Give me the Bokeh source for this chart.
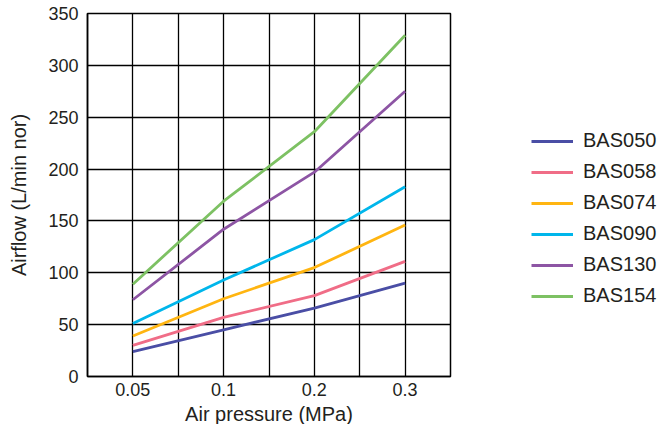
import math
from bokeh.plotting import figure
from bokeh.models import FixedTicker, Legend, LegendItem, Range1d
from bokeh.embed import file_html
from bokeh.resources import INLINE

pressures = ["0.05", "0.1", "0.2", "0.3"]
series_names = ["BAS050", "BAS058", "BAS074", "BAS090", "BAS130", "BAS154"]
bas050 = [24, 45, 66, 90]
bas058 = [30, 57, 78, 111]
bas074 = [39, 75, 105, 146]
bas090 = [51, 93, 132, 183]
bas130 = [74, 142, 197, 275]
bas154 = [89, 169, 236, 329]
colors = ["#4a4ea5", "#f06d87", "#ffb511", "#00b6eb", "#8d55a4", "#7dc163"]
y_ticks = [0, 50, 100, 150, 200, 250, 300, 350]

series = [bas050, bas058, bas074, bas090, bas130, bas154]
xs = list(range(len(pressures)))

FONT = "Liberation Sans"
TXT = "#231f20"

p = figure(width=661, height=424, output_backend="svg", toolbar_location=None,
           x_range=Range1d(-0.5, len(pressures) - 0.5), y_range=Range1d(0, 350),
           frame_width=363, frame_height=363,
           min_border_left=87, min_border_top=13, min_border_bottom=48, min_border_right=211)
p.background_fill_color = "white"
p.border_fill_color = "white"
p.outline_line_color = "black"
p.outline_line_width = 1.5

p.xaxis.ticker = FixedTicker(ticks=xs)
p.xaxis.major_label_overrides = {i: s for i, s in enumerate(pressures)}
p.yaxis.ticker = FixedTicker(ticks=y_ticks)
for ax in (p.xaxis[0], p.yaxis[0]):
    ax.major_tick_out = 0
    ax.major_tick_in = 0
    ax.minor_tick_out = 0
    ax.minor_tick_in = 0
    ax.axis_line_color = "black"
    ax.axis_line_width = 1.5
    ax.major_label_text_font = FONT
    ax.major_label_text_font_size = "18px"
    ax.major_label_text_color = TXT
    ax.axis_label_text_font = FONT
    ax.axis_label_text_font_size = "20px"
    ax.axis_label_text_font_style = "normal"
    ax.axis_label_text_color = TXT
p.xaxis.major_label_standoff = 6
p.yaxis.major_label_standoff = 9
p.xaxis.axis_label = "Air pressure (MPa)"
p.yaxis.axis_label = "Airflow (L/min nor)"
p.xaxis.axis_label_standoff = 4
p.yaxis.axis_label_standoff = 15

p.xgrid.ticker = FixedTicker(ticks=[i * 0.5 for i in range(2 * len(pressures) - 1)])
p.ygrid.ticker = FixedTicker(ticks=y_ticks)
for g in (p.xgrid[0], p.ygrid[0]):
    g.grid_line_color = "black"
    g.grid_line_width = 1.3
    g.grid_line_alpha = 1.0

items = []
for name, vals, c in zip(series_names, series, colors):
    r = p.line(xs, vals, line_color=c, line_width=2.8)
    items.append(LegendItem(label=name, renderers=[r]))

legend = Legend(items=items, location=(81, 69), orientation="vertical",
                glyph_width=42, glyph_height=20, label_height=20, spacing=8,
                label_standoff=10, padding=0, margin=0,
                border_line_color=None, background_fill_alpha=0,
                label_text_font=FONT, label_text_font_size="20px", label_text_color=TXT)
p.add_layout(legend, "right")

open("out.html", "w").write(file_html(p, INLINE))
